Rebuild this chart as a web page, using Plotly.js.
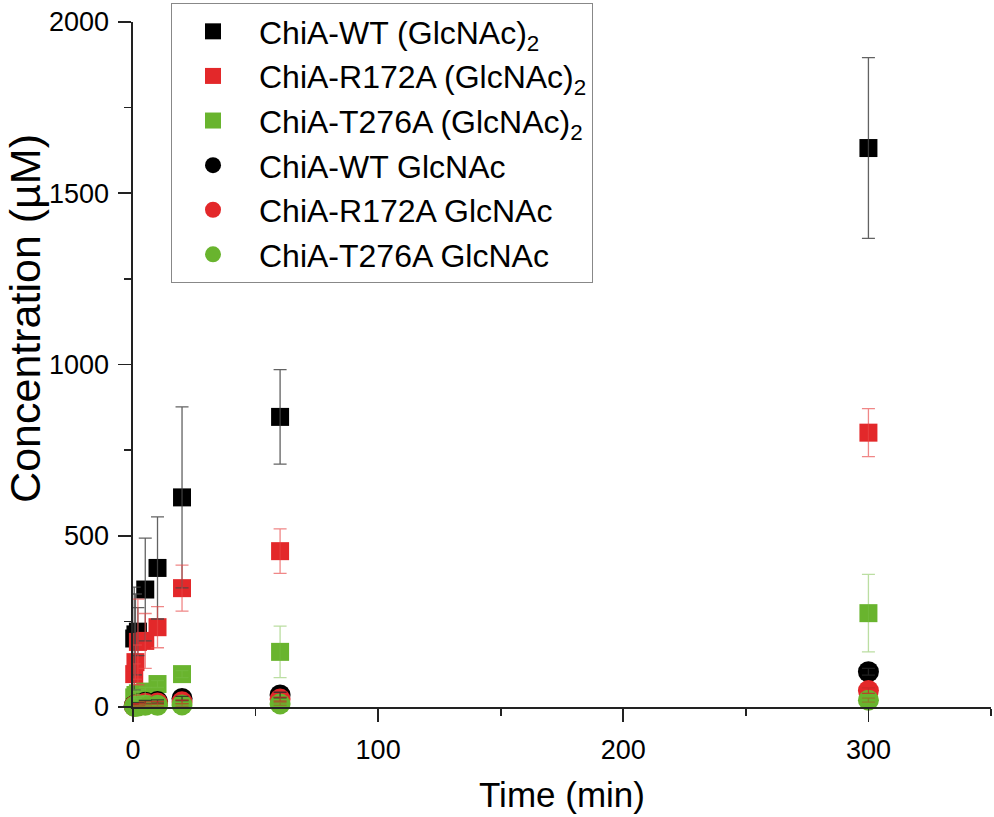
<!DOCTYPE html>
<html>
<head>
<meta charset="utf-8">
<script src="https://cdn.plot.ly/plotly-3.0.1.min.js"></script>
<style>html,body{margin:0;padding:0;background:#fff;}#chart{width:994px;height:817px;}</style>
</head>
<body>
<div id="chart"></div>
<script>
// Time points (min)
const time = [0.5, 1, 2, 5, 10, 20, 60, 300];

// (GlcNAc)2 concentrations (µM)
const wtDimer      = [200, 212, 220, 343, 406, 612, 847, 1632];
const wtDimerErr   = [150, 118, 70, 150, 149, 264, 138, 264];
const r172Dimer    = [96, 131, 190, 193, 233, 347, 455, 801];
const r172DimerErr = [30, 50, 125, 80, 60, 67, 65, 70];
const t276Dimer    = [28, 35, 40, 45, 67, 96, 161, 274];
const t276DimerErr = [8, 10, 10, 12, 10, 10, 75, 113];

// GlcNAc concentrations (µM)
const wtMono       = [4, 6, 9, 14, 16, 25, 35, 103];
const wtMonoErr    = [3, 3, 4, 5, 5, 6, 8, 10];
const r172Mono     = [3, 5, 7, 11, 12, 15, 23, 48];
const r172MonoErr  = [2, 3, 3, 4, 4, 5, 6, 8];
const t276Mono     = [2, 2, 3, 5, 5, 6, 9, 20];
const t276MonoErr  = [2, 2, 2, 3, 3, 4, 4, 6];

const names = ['ChiA-WT (GlcNAc)<sub>2</sub>', 'ChiA-R172A (GlcNAc)<sub>2</sub>', 'ChiA-T276A (GlcNAc)<sub>2</sub>',
               'ChiA-WT GlcNAc', 'ChiA-R172A GlcNAc', 'ChiA-T276A GlcNAc'];
const xTitle = 'Time (min)';
const yTitle = 'Concentration (µM)';

const BLACK = '#000000', RED = '#e3282a', GREEN = '#69b42e';
const errCol = ['rgba(70,70,70,0.85)', 'rgba(232,70,70,0.65)', 'rgba(120,190,70,0.5)',
                'rgba(40,40,40,0.8)', 'rgba(200,40,40,0.8)', 'rgba(150,110,40,0.7)'];

const series = [
  {y: wtDimer, e: wtDimerErr, c: BLACK, s: 'square', sz: 18},
  {y: r172Dimer, e: r172DimerErr, c: RED, s: 'square', sz: 18},
  {y: t276Dimer, e: t276DimerErr, c: GREEN, s: 'square', sz: 18},
  {y: wtMono, e: wtMonoErr, c: BLACK, s: 'circle', sz: 21},
  {y: r172Mono, e: r172MonoErr, c: RED, s: 'circle', sz: 21},
  {y: t276Mono, e: t276MonoErr, c: GREEN, s: 'circle', sz: 21}
];

const traces = [];
series.forEach((d, i) => {
  traces.push({
    x: time, y: d.y, type: 'scatter', mode: 'markers', name: names[i],
    cliponaxis: false,
    marker: {symbol: d.s, size: d.sz, color: d.c, line: {width: 0}}
  });
});
// error bars drawn on top of all markers
series.forEach((d, i) => {
  traces.push({
    x: time, y: d.y, type: 'scatter', mode: 'markers', showlegend: false, hoverinfo: 'skip',
    cliponaxis: false,
    marker: {size: 1, opacity: 0, color: d.c},
    error_y: {type: 'data', array: d.e, visible: true, color: errCol[i], thickness: 1.3, width: 6.5}
  });
});

const FONT = '"Liberation Sans", Arial, Helvetica, sans-serif';

const layout = {
  width: 994, height: 817,
  margin: {l: 133, r: 3, t: 22, b: 110},
  paper_bgcolor: '#fff', plot_bgcolor: '#fff',
  font: {family: FONT, color: '#000'},
  showlegend: true,
  legend: {
    x: 0.0443, y: 1.0277, xanchor: 'left', yanchor: 'top',
    bgcolor: 'rgba(255,255,255,0)', bordercolor: '#888', borderwidth: 1,
    font: {family: FONT, size: 32, color: '#000'},
    itemwidth: 82, indentation: -5, tracegroupgap: 0, itemsizing: 'trace'
  },
  xaxis: {
    range: [0, 350], showgrid: false, zeroline: false,
    showline: true, linecolor: '#222', linewidth: 1.6, mirror: false,
    ticks: 'outside', ticklen: 13, tickwidth: 1.6, tickcolor: '#222',
    tick0: 0, dtick: 100, ticklabelstandoff: 5,
    tickfont: {family: FONT, size: 27, color: '#000'},
    minor: {dtick: 50, ticks: 'outside', ticklen: 7, tickwidth: 1.6, tickcolor: '#222', showgrid: false},
    title: {text: xTitle, font: {family: FONT, size: 35, color: '#000'}, standoff: 18}
  },
  yaxis: {
    range: [0, 2000], showgrid: false, zeroline: false,
    showline: true, linecolor: '#222', linewidth: 1.6, mirror: false,
    ticks: 'outside', ticklen: 13, tickwidth: 1.6, tickcolor: '#222',
    tick0: 0, dtick: 500, ticklabelstandoff: 4,
    tickfont: {family: FONT, size: 27, color: '#000'},
    minor: {dtick: 250, ticks: 'outside', ticklen: 7, tickwidth: 1.6, tickcolor: '#222', showgrid: false}
  },
  annotations: [{
    text: yTitle, textangle: -90, showarrow: false,
    xref: 'paper', yref: 'paper', x: -0.1259, y: 0.568,
    xanchor: 'center', yanchor: 'middle', borderpad: 0,
    font: {family: FONT, size: 43, color: '#000'}
  }]
};

Plotly.newPlot('chart', traces, layout, {displayModeBar: false, staticPlot: true});
</script>
</body>
</html>
